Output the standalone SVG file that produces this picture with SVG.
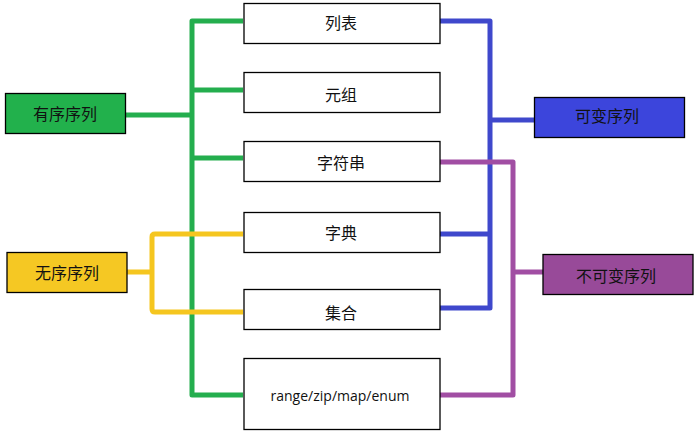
<svg xmlns="http://www.w3.org/2000/svg" width="699" height="434" viewBox="0 0 699 434">
<style>
.box{stroke:#000;stroke-width:1.3}
.w{fill:#fff}
.t{font-family:"Noto Sans CJK SC","Noto Sans",sans-serif;font-size:16px;fill:#111;text-anchor:middle;dominant-baseline:central}
.e{font-family:"Open Sans","Noto Sans",sans-serif;font-size:14px;fill:#111;text-anchor:middle;dominant-baseline:central}
.c{fill:none;stroke-width:5;stroke-linejoin:round;stroke-linecap:butt}
.g{stroke:#24ae4e}.b{stroke:#3f48cc}.p{stroke:#a14ea3}.y{stroke:#f5c61f}
</style>
<rect width="699" height="434" fill="#fff"/>
<g id="connectors">
<path class="c g" d="M125 115H192M243 21H192V395H243M192 90H243M192 158H243"/>
<path class="c y" d="M127 272H152M243 234H155Q152 234 152 237V309Q152 312 155 312H243"/>
<path class="c b" d="M440 21H490V308H440M490 120H535M490 234H440"/>
<path class="c p" d="M440 162H513V395H440M513 272H543"/>
</g>
<g id="ordered"><rect class="box" x="5.5" y="93.5" width="120" height="40" fill="#22b14c"/><text class="t" x="65" y="113">有序序列</text></g>
<g id="unordered"><rect class="box" x="7" y="252.5" width="120" height="40" fill="#f5c823"/><text class="t" x="67" y="272">无序序列</text></g>
<g id="list"><rect class="box w" x="244" y="3.5" width="196" height="40"/><text class="t" x="341" y="22">列表</text></g>
<g id="tuple"><rect class="box w" x="244" y="72.5" width="196" height="40"/><text class="t" x="341" y="94">元组</text></g>
<g id="string"><rect class="box w" x="244" y="141.5" width="196" height="40"/><text class="t" x="341" y="162">字符串</text></g>
<g id="dict"><rect class="box w" x="244" y="212.5" width="196" height="40"/><text class="t" x="341" y="232">字典</text></g>
<g id="set"><rect class="box w" x="244" y="289.5" width="196" height="40"/><text class="t" x="341" y="312">集合</text></g>
<g id="range"><rect class="box w" x="244" y="358.5" width="196" height="71"/><text class="e" x="340" y="395">range/zip/map/enum</text></g>
<g id="mutable"><rect class="box" x="534.5" y="97.5" width="150" height="40" fill="#3c45dc"/><text class="t" x="607" y="115">可变序列</text></g>
<g id="immutable"><rect class="box" x="543" y="254.5" width="150" height="40" fill="#984a99"/><text class="t" x="616" y="275">不可变序列</text></g>
</svg>
